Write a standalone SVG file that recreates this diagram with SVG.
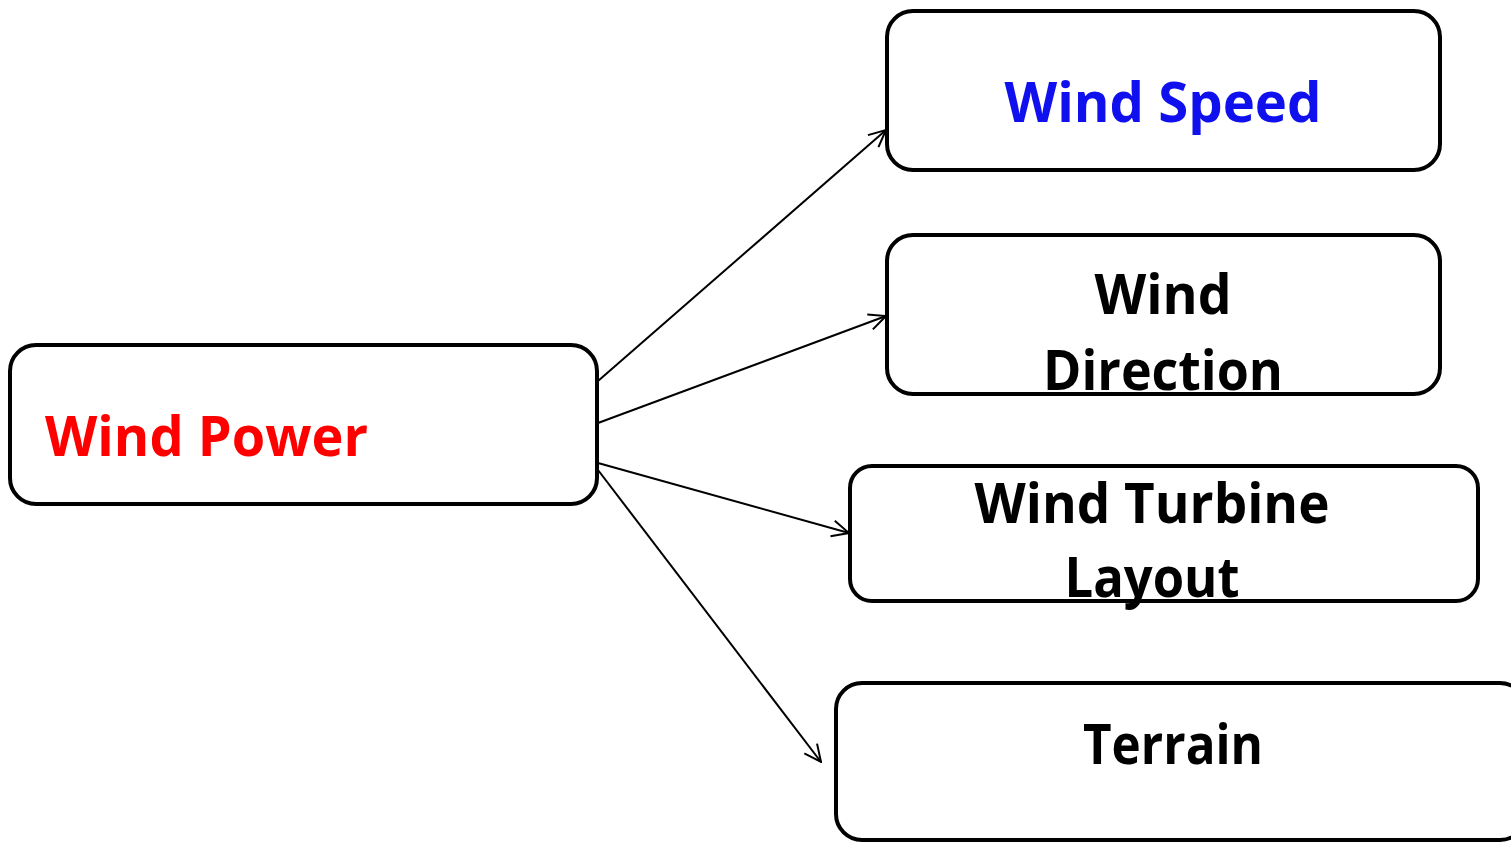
<svg xmlns="http://www.w3.org/2000/svg" width="1511" height="842" viewBox="0 0 1511 842">
  <style>
    .box { fill: #ffffff; stroke: #000000; stroke-width: 4; }
    .label { font-family: "Open Sans", "Liberation Sans", sans-serif; font-weight: bold; font-size: 56px; text-anchor: middle; fill: #000000; }
    .link { stroke: #000000; stroke-width: 2; fill: none; marker-end: url(#open-arrow); }
  </style>
  <defs>
    <marker id="open-arrow" viewBox="0 0 20 20" refX="19" refY="10" markerWidth="20" markerHeight="20" markerUnits="userSpaceOnUse" orient="auto">
      <path d="M2,2 L19,10 L2,18" fill="none" stroke="#000000" stroke-width="2"/>
    </marker>
  </defs>

  <rect width="1511" height="842" fill="#ffffff"/>

  <g id="connectors">
    <line class="link" x1="598" y1="381" x2="886" y2="130"/>
    <line class="link" x1="598" y1="423" x2="886" y2="316"/>
    <line class="link" x1="598" y1="463" x2="849" y2="533"/>
    <line class="link" x1="598" y1="470" x2="821" y2="762"/>
  </g>

  <g id="wind-power">
    <rect class="box" x="10" y="345" width="587" height="159" rx="26"/>
    <text class="label" x="45" y="456" style="text-anchor:start; fill:#ff0000" textLength="323" lengthAdjust="spacingAndGlyphs">Wind Power</text>
  </g>

  <g id="wind-speed">
    <rect class="box" x="887" y="11" width="553" height="159" rx="26"/>
    <text class="label" x="1163" y="122" style="fill:#1010ee" textLength="317" lengthAdjust="spacingAndGlyphs">Wind Speed</text>
  </g>

  <g id="wind-direction">
    <rect class="box" x="887" y="235" width="553" height="159" rx="26"/>
    <text class="label" x="1163" y="314" textLength="137" lengthAdjust="spacingAndGlyphs">Wind</text>
    <text class="label" x="1163" y="390" textLength="240" lengthAdjust="spacingAndGlyphs">Direction</text>
  </g>

  <g id="wind-turbine-layout">
    <rect class="box" x="850" y="466" width="628" height="135" rx="22"/>
    <text class="label" x="1152" y="523" textLength="355" lengthAdjust="spacingAndGlyphs">Wind Turbine</text>
    <text class="label" x="1152" y="597" textLength="175" lengthAdjust="spacingAndGlyphs">Layout</text>
  </g>

  <g id="terrain">
    <rect class="box" x="836" y="683" width="690" height="157" rx="26"/>
    <text class="label" x="1173" y="764" textLength="180" lengthAdjust="spacingAndGlyphs">Terrain</text>
  </g>
</svg>
